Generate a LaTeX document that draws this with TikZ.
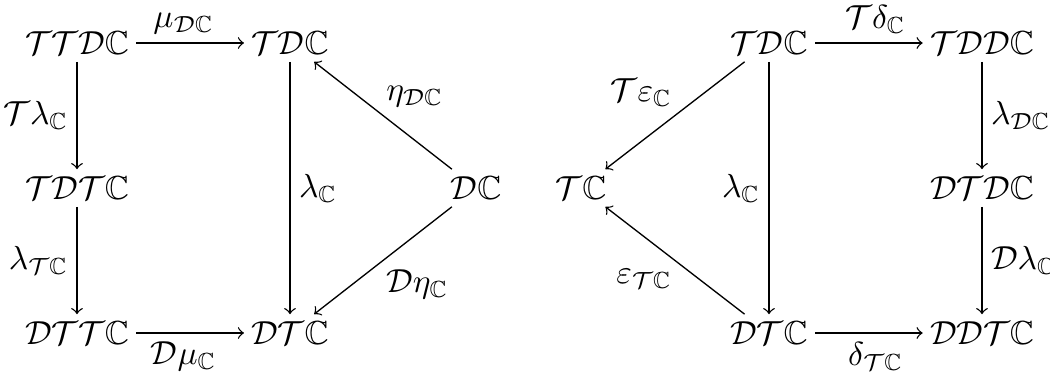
\documentclass[tikz,border=0pt]{standalone}
\usepackage{amssymb}
\newcommand{\Tc}{\mathcal{T}}
\newcommand{\Dc}{\mathcal{D}}
\newcommand{\Cb}{\mathbb{C}}
\begin{document}
\begin{tikzpicture}[x=0.3pt,y=-0.3pt,
  obj/.style={inner sep=2pt},
  arr/.style={->,line width=0.4pt},
  lab/.style={inner sep=2.5pt},
  dlab/.style={inner xsep=0.8pt,inner ysep=2.5pt}]
\useasboundingbox (0,0) rectangle (1050,375);
% left diagram
\node[obj] (a1) at (77,43) {$\Tc\Tc\Dc\Cb$};
\node[obj] (b1) at (290,43) {$\Tc\Dc\Cb$};
\node[obj] (a2) at (77,188) {$\Tc\Dc\Tc\Cb$};
\node[obj] (c2) at (476,188) {$\Dc\Cb$};
\node[obj] (a3) at (77,333) {$\Dc\Tc\Tc\Cb$};
\node[obj] (b3) at (290,333) {$\Dc\Tc\Cb$};
\draw[arr] (a1) -- (b1);
\path (a1.center) -- (b1.center) node[lab,midway,above] {$\mu_{\Dc\Cb}$};
\draw[arr] (a1) -- (a2);
\path (a1.center) -- (a2.center) node[lab,midway,left] {$\Tc\lambda_{\Cb}$};
\draw[arr] (a2) -- (a3);
\path (a2.center) -- (a3.center) node[lab,midway,left] {$\lambda_{\Tc\Cb}$};
\draw[arr] (a3) -- (b3);
\path (a3.center) -- (b3.center) node[lab,midway,below] {$\Dc\mu_{\Cb}$};
\draw[arr] (b1) -- (b3);
\path (b1.center) -- (b3.center) node[lab,midway,right] {$\lambda_{\Cb}$};
\draw[arr] (c2) -- (b1);
\path (c2.center) -- (b1.center) node[dlab,midway,above right] {$\eta_{\Dc\Cb}$};
\draw[arr] (c2) -- (b3);
\path (c2.center) -- (b3.center) node[dlab,midway,below right] {$\Dc\eta_{\Cb}$};
% right diagram
\node[obj] (e1) at (769,43) {$\Tc\Dc\Cb$};
\node[obj] (f1) at (982,43) {$\Tc\Dc\Dc\Cb$};
\node[obj] (d2) at (581,188) {$\Tc\Cb$};
\node[obj] (f2) at (982,188) {$\Dc\Tc\Dc\Cb$};
\node[obj] (e3) at (769,333) {$\Dc\Tc\Cb$};
\node[obj] (f3) at (982,333) {$\Dc\Dc\Tc\Cb$};
\draw[arr] (e1) -- (f1);
\path (e1.center) -- (f1.center) node[lab,midway,above] {$\Tc\delta_{\Cb}$};
\draw[arr] (e1) -- (d2);
\path (e1.center) -- (d2.center) node[dlab,midway,above left] {$\Tc\varepsilon_{\Cb}$};
\draw[arr] (e1) -- (e3);
\path (e1.center) -- (e3.center) node[lab,midway,left] {$\lambda_{\Cb}$};
\draw[arr] (e3) -- (d2);
\path (e3.center) -- (d2.center) node[dlab,midway,below left] {$\varepsilon_{\Tc\Cb}$};
\draw[arr] (e3) -- (f3);
\path (e3.center) -- (f3.center) node[lab,midway,below] {$\delta_{\Tc\Cb}$};
\draw[arr] (f1) -- (f2);
\path (f1.center) -- (f2.center) node[lab,midway,right] {$\lambda_{\Dc\Cb}$};
\draw[arr] (f2) -- (f3);
\path (f2.center) -- (f3.center) node[lab,midway,right] {$\Dc\lambda_{\Cb}$};
\end{tikzpicture}
\end{document}
